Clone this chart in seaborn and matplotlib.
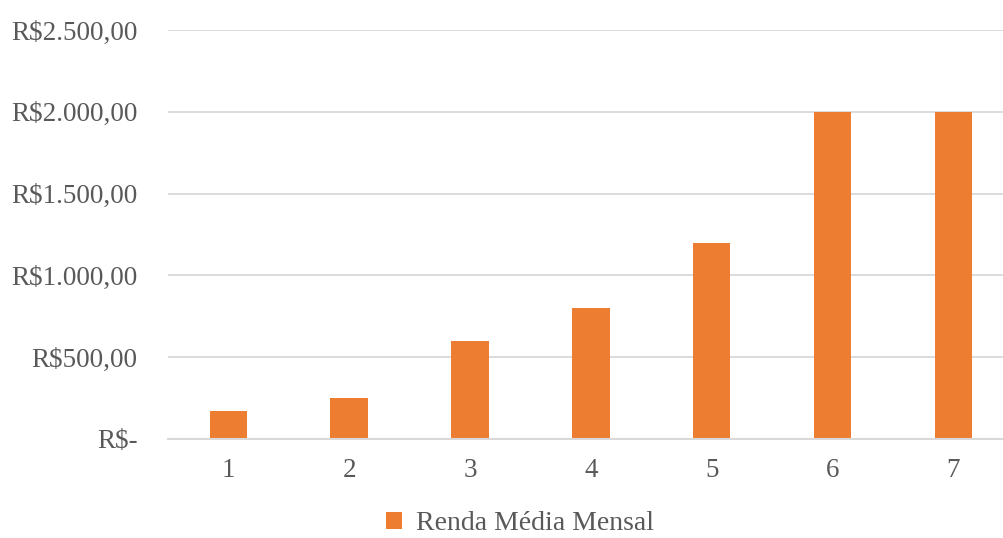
import matplotlib
matplotlib.use("Agg")
import matplotlib.pyplot as plt
import seaborn as sns
import pandas as pd

categories = ["1", "2", "3", "4", "5", "6", "7"]
values = [173, 250, 600, 800, 1200, 2000, 2000]
series_name = "Renda Média Mensal"
ytick_values = [0, 500, 1000, 1500, 2000, 2500]
ytick_labels = ["R$-", "R$500,00", "R$1.000,00", "R$1.500,00", "R$2.000,00", "R$2.500,00"]

sns.set_theme(style="white")
plt.rcParams["font.family"] = ["Liberation Serif", "DejaVu Serif"]

df = pd.DataFrame({"cat": categories, "val": values})

fig = plt.figure(figsize=(10.04, 5.38), dpi=100)
W, H = 1004, 538
ax = fig.add_axes([168 / W, (H - 439) / H, (1004 - 168) / W, (439 - 30) / H])

sns.barplot(data=df, x="cat", y="val", color="#ED7D31", width=0.31,
            saturation=1, linewidth=0, ax=ax, label=series_name)

ax.set_xlim(-0.5, 6.42)
ax.set_ylim(0, 2500)
ax.set_yticks(ytick_values)
ax.set_yticklabels(ytick_labels)
ax.yaxis.grid(True, color="#D9D9D9", linewidth=1.3)
ax.set_axisbelow(True)
for s in ["top", "right", "left"]:
    ax.spines[s].set_visible(False)
ax.spines["bottom"].set_color("#D9D9D9")
ax.spines["bottom"].set_linewidth(1.5)
ax.tick_params(axis="y", length=0, pad=22, labelsize=19.5, labelcolor="#595959")
ax.tick_params(axis="x", length=0, pad=14, labelsize=19.5, labelcolor="#595959")
ax.set_xlabel("")
ax.set_ylabel("")

leg = ax.legend(loc="center", bbox_to_anchor=(520 / W, (H - 524) / H),
                bbox_transform=fig.transFigure, frameon=False, fontsize=20,
                handlelength=0.55, handleheight=0.55, handletextpad=0.5)
for t in leg.get_texts():
    t.set_color("#595959")

fig.savefig("out.png", dpi=100)
